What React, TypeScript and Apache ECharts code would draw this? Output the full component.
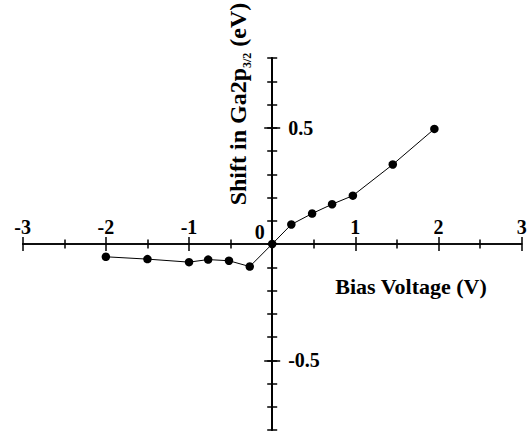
import React, { useEffect, useRef } from 'react';
import * as echarts from 'echarts';

const biasVoltage = [-2.0, -1.5, -1.0, -0.77, -0.52, -0.27, 0.0, 0.23, 0.48, 0.72, 0.97, 1.45, 1.95];
const shiftEV = [-0.055, -0.065, -0.078, -0.067, -0.072, -0.097, 0.0, 0.084, 0.131, 0.171, 0.208, 0.342, 0.495];
const yLabelValues = [-0.5, 0.5];
const yMajorTickValues = [-0.5, 0.5];
const xTitle = 'Bias Voltage (V)';

const X_MIN = -3;
const X_MAX = 3;
const Y_MIN = -0.8;
const Y_MAX = 0.8;

const W = 531;
const H = 434;
const G = { left: 22.7, right: 9.3, top: 58, bottom: 4 };

const FONT = '"Liberation Serif", "Times New Roman", serif';
const BLACK = '#000';

export default function App() {
  const ref = useRef<HTMLDivElement>(null);
  useEffect(() => {
    if (!ref.current) return;
    const chart = echarts.init(ref.current, undefined, { renderer: 'svg' });

    const plotW = W - G.left - G.right;
    const plotH = H - G.top - G.bottom;
    // grid edges placed on the zero lines, for tick labels
    const zeroFromBottom = G.bottom + ((0 - Y_MIN) / (Y_MAX - Y_MIN)) * plotH;
    const zeroFromLeft = G.left + ((0 - X_MIN) / (X_MAX - X_MIN)) * plotW;

    const line = { show: true, onZero: true, onZeroAxisIndex: 0, lineStyle: { color: BLACK, width: 1.5 } };
    const tickStyle = { color: BLACK, width: 1.5 };
    const labelFont = { color: BLACK, fontFamily: FONT, fontWeight: 'bold', fontSize: 20 };
    const baseX = {
      type: 'value' as const,
      min: X_MIN,
      max: X_MAX,
      interval: 1,
      position: 'bottom' as const,
      splitLine: { show: false },
    };
    const baseY = {
      type: 'value' as const,
      min: Y_MIN,
      max: Y_MAX,
      interval: 0.1,
      position: 'left' as const,
      splitLine: { show: false },
    };
    const hiddenX = (gridIndex: number) => ({ ...baseX, gridIndex, show: false, axisLine: { show: false, onZero: false } });
    const hiddenY = (gridIndex: number) => ({ ...baseY, gridIndex, show: false, axisLine: { show: false, onZero: false } });

    const option = {
      animation: false,
      grid: [
        { ...G, containLabel: false, outerBoundsMode: 'none' },
        { left: G.left, right: G.right, top: G.top, bottom: zeroFromBottom, containLabel: false, outerBoundsMode: 'none' },
        { left: zeroFromLeft, right: G.right, top: G.top, bottom: G.bottom, containLabel: false, outerBoundsMode: 'none' },
      ],
      xAxis: [
        {
          ...baseX,
          gridIndex: 0,
          axisLine: line,
          axisTick: { show: true, inside: true, length: 7, lineStyle: tickStyle },
          minorTick: { show: true, splitNumber: 2, length: 4.5, lineStyle: tickStyle },
          axisLabel: { show: false },
        },
        {
          ...baseX,
          gridIndex: 0,
          axisLine: line,
          axisTick: { show: true, inside: false, length: 7, lineStyle: tickStyle },
          minorTick: { show: true, splitNumber: 2, length: 4.5, lineStyle: tickStyle },
          axisLabel: { show: false },
        },
        {
          ...baseX,
          gridIndex: 1,
          axisLine: { show: false, onZero: false },
          axisTick: { show: false },
          axisLabel: {
            show: true,
            inside: true,
            margin: 7,
            ...labelFont,
            formatter: (v: number) => (v === 0 ? '{z|0}' : String(v)),
            rich: {
              z: { ...labelFont, lineHeight: 11, padding: [0, 25, 0, 0] },
            },
          },
        },
        hiddenX(2),
      ],
      yAxis: [
        {
          ...baseY,
          gridIndex: 0,
          axisLine: line,
          axisTick: { show: true, inside: true, length: 5, lineStyle: tickStyle },
          axisLabel: { show: false },
        },
        {
          ...baseY,
          gridIndex: 0,
          axisLine: line,
          axisTick: { show: true, inside: false, length: 5, lineStyle: tickStyle },
          axisLabel: { show: false },
        },
        {
          ...baseY,
          gridIndex: 0,
          axisLine: line,
          axisTick: { show: true, inside: true, length: 8, customValues: yMajorTickValues, lineStyle: tickStyle },
          axisLabel: { show: false },
        },
        {
          ...baseY,
          gridIndex: 0,
          axisLine: line,
          axisTick: { show: true, inside: false, length: 8, customValues: yMajorTickValues, lineStyle: tickStyle },
          axisLabel: { show: false },
        },
        hiddenY(1),
        {
          ...baseY,
          gridIndex: 2,
          axisLine: { show: false, onZero: false },
          axisTick: { show: false },
          axisLabel: {
            show: true,
            inside: true,
            margin: 16,
            ...labelFont,
            customValues: yLabelValues,
            formatter: (v: number) => String(v),
          },
        },
      ],
      graphic: [
        {
          type: 'text',
          x: 411,
          y: 286,
          style: {
            text: xTitle,
            fontFamily: FONT,
            fontWeight: 'bold',
            fontSize: 22,
            fill: BLACK,
            align: 'center',
            verticalAlign: 'middle',
          },
        },
        {
          type: 'text',
          x: 238,
          y: 104,
          rotation: Math.PI / 2,
          style: {
            text: '{a|Shift in Ga2p}{s|3/2}{a| (eV)}',
            align: 'center',
            verticalAlign: 'middle',
            fill: BLACK,
            rich: {
              a: { fontFamily: FONT, fontWeight: 'bold', fontSize: 24, lineHeight: 24, verticalAlign: 'top', fill: BLACK },
              s: { fontFamily: FONT, fontWeight: 'bold', fontSize: 12, lineHeight: 12, padding: [15, 0, 0, 0], verticalAlign: 'top', fill: BLACK },
            },
          },
        },
      ],
      series: [
        {
          type: 'line',
          xAxisIndex: 0,
          yAxisIndex: 0,
          data: biasVoltage.map((x, i) => [x, shiftEV[i]]),
          symbol: 'circle',
          symbolSize: 8.5,
          itemStyle: { color: BLACK },
          lineStyle: { color: BLACK, width: 1 },
        },
      ],
    };
    chart.setOption(option as any);
    return () => chart.dispose();
  }, []);
  return <div ref={ref} style={{ position: 'absolute', left: 0, top: 0, width: W, height: H }} />;
}
